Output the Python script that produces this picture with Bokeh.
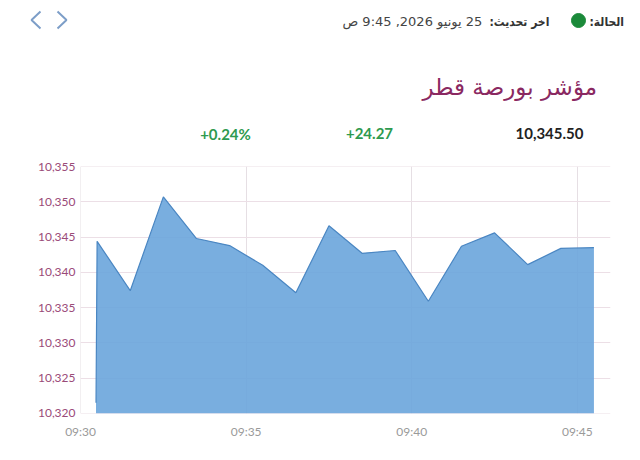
import pandas as pd
from bokeh.plotting import figure
from bokeh.layouts import column
from bokeh.models import Range1d, FixedTicker, NumeralTickFormatter, DatetimeTickFormatter, ColumnDataSource
from bokeh.core.properties import value
from bokeh.embed import file_html
from bokeh.resources import INLINE

# ---- data ----
DAY = "2026-06-25 "
times = ["09:30:28", "09:30:30", "09:31:30", "09:32:30", "09:33:30", "09:34:30", "09:35:30",
         "09:36:30", "09:37:30", "09:38:30", "09:39:30", "09:40:30", "09:41:30", "09:42:30",
         "09:43:30", "09:44:30", "09:45:30"]
values = [10321.5, 10344.4, 10337.4, 10350.7, 10344.8, 10343.8, 10341.0,
          10337.1, 10346.6, 10342.7, 10343.1, 10335.9, 10343.7, 10345.6,
          10341.1, 10343.4, 10343.5]
y_ticks = [10320, 10325, 10330, 10335, 10340, 10345, 10350, 10355]
x_tick_labels = ["09:30", "09:35", "09:40", "09:45"]
x_start, x_end = "09:29:59.9", "09:46:00"
y_base = 10320
y_start, y_end = 10319.99, 10355.01

title_text = "مؤشر بورصة قطر"
status_label = "الحالة:"
update_label = "اخر تحديث:"
update_value = "25 يونيو 2026, 9:45 ص"
stat_texts = ["10,345.50", "+24.27", "+0.24%"]
stat_colors = ["#222222", "#2e9a4f", "#2e9a4f"]

RLE, PDF = "\u202b", "\u202c"

W = 640
HDR_H = 150

# ---- header figure (data units == canvas pixels) ----
hdr = figure(width=W, height=HDR_H, x_range=Range1d(0, W), y_range=Range1d(HDR_H, 0),
             output_backend="svg", toolbar_location=None, min_border=0,
             x_axis_location=None, y_axis_location=None)
hdr.frame_align = False
hdr.grid.visible = False
hdr.outline_line_color = None

AR = value("DejaVu Sans")
ARC = value("DejaVu Sans Condensed")
hdr.text(x=[589], y=[21], text=[RLE + status_label + PDF], text_align="left", text_baseline="middle",
         text_font=ARC, text_font_size="12px", text_font_style="bold", text_color="#333333")
hdr.scatter(x=[578], y=[20], size=14, color="#1b8a3a")
hdr.text(x=[489], y=[21], text=[RLE + update_label + PDF], text_align="left", text_baseline="middle",
         text_font=ARC, text_font_size="12px", text_font_style="bold", text_color="#333333")
hdr.text(x=[342], y=[21], text=[RLE + update_value + PDF], text_align="left",
         text_baseline="middle", text_font=AR, text_font_size="13px", text_color="#444444")
hdr.multi_line(xs=[[40, 31, 40], [57, 66, 57]], ys=[[11, 19.5, 28], [11, 19.5, 28]],
               line_color="#7d9ec8", line_width=2)
hdr.text(x=[422], y=[86], text=[title_text], text_align="left", text_baseline="middle",
         text_font=AR, text_font_size="23px", text_color="#8a2861")
hdr.text(x=[549, 369, 225], y=[133, 133, 133], text=stat_texts,
         text_align="center", text_baseline="middle", text_font=value("Lato"),
         text_font_size="15px", text_font_style="bold", text_color=stat_colors)

# ---- chart figure ----
xt = pd.to_datetime([DAY + t for t in times])
src = ColumnDataSource(dict(x=xt, y=values, base=[y_base] * len(values)))

p = figure(width=W, height=460 - HDR_H, x_axis_type="datetime",
           x_range=Range1d(pd.Timestamp(DAY + x_start), pd.Timestamp(DAY + x_end)),
           y_range=Range1d(y_start, y_end),
           output_backend="svg", toolbar_location=None,
           min_border_left=80, min_border_right=30, min_border_top=16, min_border_bottom=47)
p.frame_align = False
p.outline_line_color = None

p.varea(x="x", y1="base", y2="y", source=src, fill_color="#6aa5dc", fill_alpha=0.9)
p.line(x="x", y="y", source=src, line_color="#4a86c2", line_width=1.2)

x_ticks = [pd.Timestamp(DAY + t).value / 1e6 for t in x_tick_labels]
p.xaxis.ticker = FixedTicker(ticks=x_ticks)
p.xaxis.formatter = DatetimeTickFormatter(minutes="%H:%M", hours="%H:%M", minsec="%H:%M")
p.yaxis.ticker = FixedTicker(ticks=y_ticks)
p.yaxis.formatter = NumeralTickFormatter(format="0,0")

for ax in (p.xaxis, p.yaxis):
    ax.axis_line_color = None
    ax.major_tick_line_color = None
    ax.minor_tick_line_color = None
    ax.major_tick_out = 0
    ax.minor_tick_out = 0
    ax.major_label_text_font = "Lato"
    ax.major_label_text_font_size = "12px"
p.yaxis.major_label_text_color = "#9a4a78"
p.xaxis.major_label_text_color = "#9a9a9a"
p.yaxis.major_label_standoff = 5
p.xaxis.major_label_standoff = 10

p.xgrid.grid_line_color = "#e6dfe4"
p.ygrid.grid_line_color = "#ecdfe6"

layout = column(hdr, p, spacing=0)
open("out.html", "w").write(file_html(layout, INLINE))
